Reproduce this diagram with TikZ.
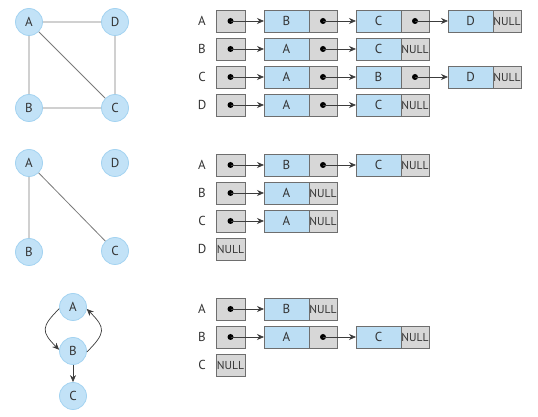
\documentclass[tikz,border=0pt]{standalone}
\usepackage{fontspec}
\setmainfont{PT Sans}
\usetikzlibrary{positioning,arrows.meta}
\definecolor{vtxfill}{HTML}{C2E2F7}
\definecolor{vtxline}{HTML}{A3D3F1}
\definecolor{datablue}{HTML}{BCDEF4}
\definecolor{ptrgray}{HTML}{D7D7D7}
\definecolor{cellline}{HTML}{6E6E6E}
\definecolor{edgegray}{HTML}{7A7A7A}
\definecolor{linkgray}{HTML}{3C3C3C}
\definecolor{txtgray}{HTML}{333333}

\begin{document}
\begin{tikzpicture}[x=1pt, y=1pt,
    vertex/.style={circle, fill=vtxfill, draw=vtxline, line width=0.8pt, minimum size=27pt,
      inner sep=0pt, text=txtgray, font=\fontsize{13}{14}\selectfont},
    edge/.style={draw=edgegray, line width=0.8pt},
    cell/.style={rectangle, draw=cellline, line width=0.7pt, minimum height=22pt,
      inner sep=0pt, outer sep=0pt, text=txtgray, font=\fontsize{13}{14}\selectfont},
    datacell/.style={cell, fill=datablue, minimum width=45pt},
    ptrcell/.style={cell, fill=ptrgray, minimum width=28pt},
    headcell/.style={cell, fill=ptrgray, minimum width=29pt},
    nulltext/.style={font=\fontsize{11.5}{12}\selectfont},
    rowlabel/.style={text=txtgray, font=\fontsize{13}{14}\selectfont},
    link/.style={draw=linkgray, line width=0.7pt, -{Stealth[length=7pt,width=6pt]}}
  ]
  \useasboundingbox (0,0) rectangle (538,417);

  % Graph 1
  \node[vertex] (g1A) at (29,395) {A};
  \node[vertex] (g1D) at (115,395) {D};
  \node[vertex] (g1B) at (29,309) {B};
  \node[vertex] (g1C) at (115,309) {C};
  \draw[edge] (g1A) -- (g1D) (g1A) -- (g1B) (g1A) -- (g1C) (g1B) -- (g1C) (g1D) -- (g1C);

  % Lists of graph 1
  \node[rowlabel] (r1A) at (202,396) {A};
  \node[headcell] (h1A) at (230.5,396) {};
  \node[datacell, right=19pt of h1A] (d1A1) {B};
  \node[ptrcell, right=0pt of d1A1] (p1A1) {};
  \node[datacell, right=19pt of p1A1] (d1A2) {C};
  \node[ptrcell, right=0pt of d1A2] (p1A2) {};
  \node[datacell, right=19pt of p1A2] (d1A3) {D};
  \node[ptrcell, nulltext, right=0pt of d1A3] (p1A3) {NULL};

  \node[rowlabel] (r1B) at (202,368) {B};
  \node[headcell] (h1B) at (230.5,368) {};
  \node[datacell, right=19pt of h1B] (d1B1) {A};
  \node[ptrcell, right=0pt of d1B1] (p1B1) {};
  \node[datacell, right=19pt of p1B1] (d1B2) {C};
  \node[ptrcell, nulltext, right=0pt of d1B2] (p1B2) {NULL};

  \node[rowlabel] (r1C) at (202,340) {C};
  \node[headcell] (h1C) at (230.5,340) {};
  \node[datacell, right=19pt of h1C] (d1C1) {A};
  \node[ptrcell, right=0pt of d1C1] (p1C1) {};
  \node[datacell, right=19pt of p1C1] (d1C2) {B};
  \node[ptrcell, right=0pt of d1C2] (p1C2) {};
  \node[datacell, right=19pt of p1C2] (d1C3) {D};
  \node[ptrcell, nulltext, right=0pt of d1C3] (p1C3) {NULL};

  \node[rowlabel] (r1D) at (202,312) {D};
  \node[headcell] (h1D) at (230.5,312) {};
  \node[datacell, right=19pt of h1D] (d1D1) {A};
  \node[ptrcell, right=0pt of d1D1] (p1D1) {};
  \node[datacell, right=19pt of p1D1] (d1D2) {C};
  \node[ptrcell, nulltext, right=0pt of d1D2] (p1D2) {NULL};

  % Graph 2
  \node[vertex] (g2A) at (29,254) {A};
  \node[vertex] (g2D) at (115,254) {D};
  \node[vertex] (g2B) at (29,165) {B};
  \node[vertex] (g2C) at (115,166) {C};
  \draw[edge] (g2A) -- (g2B) (g2A) -- (g2C);

  % Lists of graph 2
  \node[rowlabel] (r2A) at (202,252) {A};
  \node[headcell] (h2A) at (230.5,252) {};
  \node[datacell, right=19pt of h2A] (d2A1) {B};
  \node[ptrcell, right=0pt of d2A1] (p2A1) {};
  \node[datacell, right=19pt of p2A1] (d2A2) {C};
  \node[ptrcell, nulltext, right=0pt of d2A2] (p2A2) {NULL};

  \node[rowlabel] (r2B) at (202,224) {B};
  \node[headcell] (h2B) at (230.5,224) {};
  \node[datacell, right=19pt of h2B] (d2B1) {A};
  \node[ptrcell, nulltext, right=0pt of d2B1] (p2B1) {NULL};

  \node[rowlabel] (r2C) at (202,196) {C};
  \node[headcell] (h2C) at (230.5,196) {};
  \node[datacell, right=19pt of h2C] (d2C1) {A};
  \node[ptrcell, nulltext, right=0pt of d2C1] (p2C1) {NULL};

  \node[rowlabel] (r2D) at (202,168) {D};
  \node[headcell, nulltext] (h2D) at (230.5,168) {NULL};

  % Graph 3 (directed)
  \node[vertex] (g3A) at (73,110) {A};
  \node[vertex] (g3B) at (73,66) {B};
  \node[vertex] (g3C) at (73,21) {C};
  \draw[link] (g3A.187) to[out=225, in=135, looseness=1.6] (g3B.175);
  \draw[link] (g3B.-4) to[out=45, in=-45, looseness=1.6] (g3A.-8);
  \draw[link] (g3B) -- (g3C);

  % Lists of graph 3
  \node[rowlabel] (r3A) at (202,108) {A};
  \node[headcell] (h3A) at (230.5,108) {};
  \node[datacell, right=19pt of h3A] (d3A1) {B};
  \node[ptrcell, nulltext, right=0pt of d3A1] (p3A1) {NULL};

  \node[rowlabel] (r3B) at (202,80) {B};
  \node[headcell] (h3B) at (230.5,80) {};
  \node[datacell, right=19pt of h3B] (d3B1) {A};
  \node[ptrcell, right=0pt of d3B1] (p3B1) {};
  \node[datacell, right=19pt of p3B1] (d3B2) {C};
  \node[ptrcell, nulltext, right=0pt of d3B2] (p3B2) {NULL};

  \node[rowlabel] (r3C) at (202,52) {C};
  \node[headcell, nulltext] (h3C) at (230.5,52) {NULL};

  % Pointers: dot and arrow to the next cell
  \foreach \p/\d in {h1A/d1A1, p1A1/d1A2, p1A2/d1A3, h1B/d1B1, p1B1/d1B2,
      h1C/d1C1, p1C1/d1C2, p1C2/d1C3, h1D/d1D1, p1D1/d1D2,
      h2A/d2A1, p2A1/d2A2, h2B/d2B1, h2C/d2C1,
      h3A/d3A1, h3B/d3B1, p3B1/d3B2} {
    \fill[black] (\p) circle (3pt);
    \draw[link] (\p.center) -- (\d.west);
  }
\end{tikzpicture}
\end{document}
